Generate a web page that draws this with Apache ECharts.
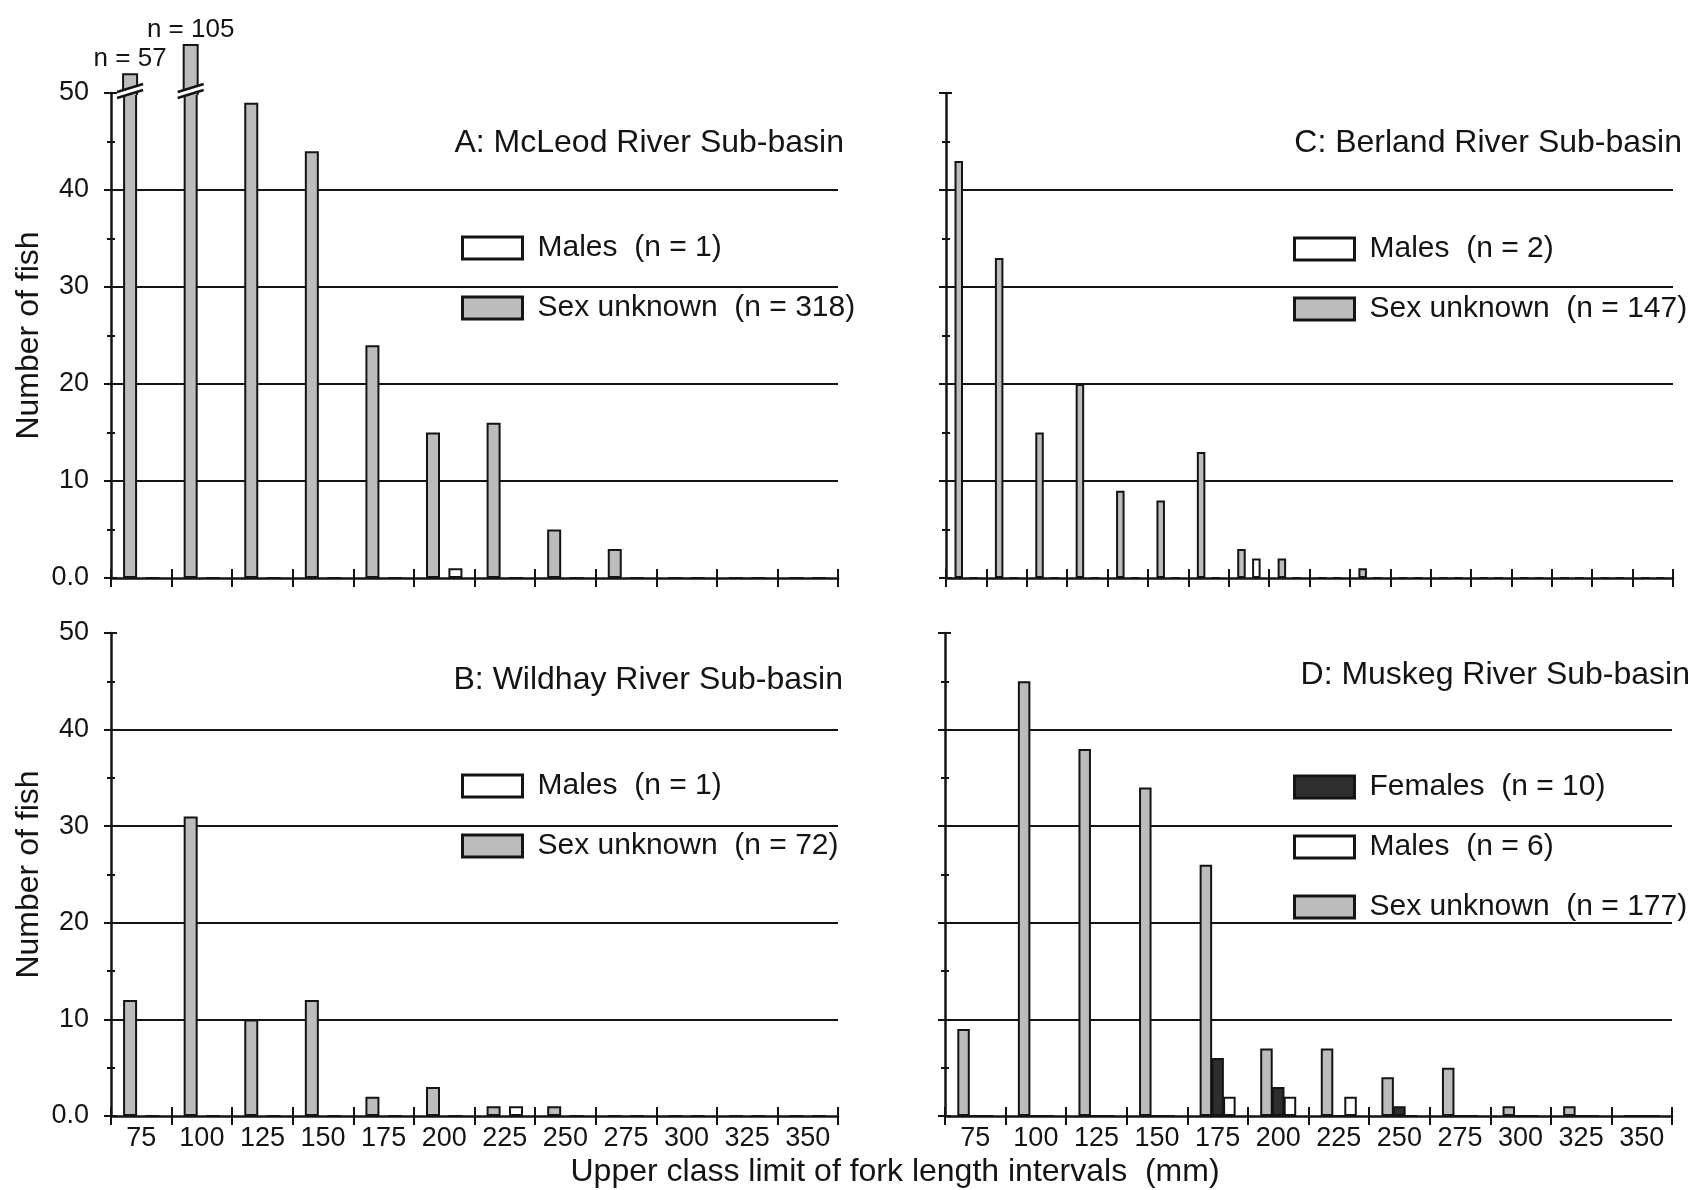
<!DOCTYPE html>
<html>
<head>
<meta charset="utf-8">
<script src="https://cdn.jsdelivr.net/npm/echarts@6/dist/echarts.min.js"></script>
<style>
  html, body { margin: 0; padding: 0; background: #fff; }
  #chart { width: 1694px; height: 1190px; }
</style>
</head>
<body>
<div id="chart"></div>
<script>
// Upper class limits of the fork-length intervals (mm)
const lengthClasses = ['75', '100', '125', '150', '175', '200', '225', '250', '275', '300', '325', '350'];
// The Berland River sample is tallied in 18 narrower classes (unlabelled)
const berlandClasses = ['1', '2', '3', '4', '5', '6', '7', '8', '9', '10', '11', '12', '13', '14', '15', '16', '17', '18'];
const yTickLabels = ['0.0', '10', '20', '30', '40', '50'];

// A: McLeod River Sub-basin
const mcleodUnknown = [57, 105, 49, 44, 24, 15, 16, 5, 3, 0, 0, 0];
const mcleodMales   = [0, 0, 0, 0, 0, 1, 0, 0, 0, 0, 0, 0];
// B: Wildhay River Sub-basin
const wildhayUnknown = [12, 31, 10, 12, 2, 3, 1, 1, 0, 0, 0, 0];
const wildhayMales   = [0, 0, 0, 0, 0, 0, 1, 0, 0, 0, 0, 0];
// C: Berland River Sub-basin
const berlandUnknown = [43, 33, 15, 20, 9, 8, 13, 3, 2, 0, 1, 0, 0, 0, 0, 0, 0, 0];
const berlandMales   = [0, 0, 0, 0, 0, 0, 0, 2, 0, 0, 0, 0, 0, 0, 0, 0, 0, 0];
// D: Muskeg River Sub-basin
const muskegUnknown = [9, 45, 38, 34, 26, 7, 7, 4, 5, 1, 1, 0];
const muskegFemales = [0, 0, 0, 0, 6, 3, 0, 1, 0, 0, 0, 0];
const muskegMales   = [0, 0, 0, 0, 2, 2, 2, 0, 0, 0, 0, 0];

const FONT = "'Liberation Sans', Arial, Helvetica, sans-serif";
const INK = '#141414';
const GRAY = '#bcbcbc';
const DARK = '#2e2e2e';
const WHITE = '#ffffff';

// Value axis is drawn up to 50; counts beyond it are shown past a scale break
const AXIS_TOP = 50;
const BREAK_GAP = 1.5;       // axis units skipped at the break
const ABOVE_SCALE = 1 / 16;  // compression applied to counts beyond the break
function brokenValue(v) {
  return v <= AXIS_TOP ? v : AXIS_TOP + BREAK_GAP + (v - AXIS_TOP) * ABOVE_SCALE;
}

const sum = arr => arr.reduce((a, b) => a + b, 0);
const maleName = arr => 'Males  (n = ' + sum(arr) + ')';
const femaleName = arr => 'Females  (n = ' + sum(arr) + ')';
const unknownName = arr => 'Sex unknown  (n = ' + sum(arr) + ')';

const grids = [
  { left: 111, top: 93, width: 727, height: 485 },   // A
  { left: 946, top: 93, width: 727, height: 485 },   // C
  { left: 111, top: 633, width: 727, height: 483 },  // B
  { left: 945, top: 633, width: 727, height: 483 }   // D
];

function xAxesFor(gridIndex, cats, showLabels) {
  const tickStyle = { color: INK, width: 2 };
  return [
    {
      type: 'category', gridIndex, data: cats, position: 'bottom', boundaryGap: true,
      axisLine: { show: true, onZero: false, lineStyle: { color: INK, width: 2.5 } },
      axisTick: { show: true, length: 9, interval: 0, lineStyle: tickStyle },
      axisLabel: { show: showLabels, interval: 0, margin: 9, fontSize: 27, color: INK, fontFamily: FONT },
      splitLine: { show: false }
    },
    {
      type: 'category', gridIndex, data: cats, position: 'bottom', boundaryGap: true,
      axisLine: { show: false },
      axisTick: { show: true, inside: true, length: 9, interval: 0, lineStyle: tickStyle },
      axisLabel: { show: false },
      splitLine: { show: false }
    }
  ];
}

function yAxesFor(gridIndex, showLabels) {
  const tickStyle = { color: INK, width: 2 };
  const clear = 'rgba(0,0,0,0)';
  return [
    {
      type: 'value', gridIndex, min: 0, max: AXIS_TOP, interval: 10, position: 'left',
      name: showLabels ? 'Number of fish' : '',
      nameLocation: 'middle', nameGap: 66,
      nameTextStyle: { fontSize: 32, color: INK, fontFamily: FONT },
      axisLine: { show: true, lineStyle: { color: INK, width: 2.5 } },
      axisTick: { show: true, length: 7, lineStyle: tickStyle },
      minorTick: { show: true, splitNumber: 2, length: 4, lineStyle: tickStyle },
      axisLabel: {
        show: showLabels, margin: 22, fontSize: 27, color: INK, fontFamily: FONT,
        formatter: (v, i) => yTickLabels[i]
      },
      splitLine: { show: true, lineStyle: { color: [clear, INK, INK, INK, INK, clear], width: 2 } }
    },
    {
      type: 'value', gridIndex, min: 0, max: AXIS_TOP, interval: 10, position: 'left',
      axisLine: { show: false },
      axisTick: { show: true, inside: true, length: 6, lineStyle: tickStyle },
      minorTick: { show: true, splitNumber: 2, length: 4, lineStyle: tickStyle },
      axisLabel: { show: false },
      splitLine: { show: false }
    }
  ];
}

function barSeries(name, data, gridIndex, fill, barWidth, barGap) {
  return {
    type: 'bar', name, data,
    xAxisIndex: gridIndex * 2, yAxisIndex: gridIndex * 2,
    barWidth, barGap,
    clip: true, silent: true, z: 3,
    itemStyle: { color: fill, borderColor: INK, borderWidth: 2 }
  };
}

// Part of a bar beyond the axis top, with the "//" break and its count
const A_BAR_W = 14, A_BAR_GAP = 0.6;
function overflowSeries(data, gridIndex, slotCount, slot, barWidth, gapFrac) {
  return {
    type: 'custom', silent: true, z: 6, clip: false,
    xAxisIndex: gridIndex * 2, yAxisIndex: gridIndex * 2,
    data: data.map((v, i) => [i, v]),
    renderItem(params, api) {
      const idx = api.value(0);
      const v = api.value(1);
      if (v <= AXIS_TOP) return null;
      const center = api.coord([idx, 0])[0];
      const total = slotCount * barWidth + (slotCount - 1) * gapFrac * barWidth;
      const left = center - total / 2 + slot * barWidth * (1 + gapFrac);
      const right = left + barWidth;
      const yAxisTop = api.coord([idx, AXIS_TOP])[1];
      const yTop = api.coord([idx, brokenValue(v)])[1];
      const yB = yAxisTop + 1;
      const ext = 6, rise = 4, band = 6;
      return {
        type: 'group',
        children: [
          { type: 'rect', shape: { x: left, y: yTop, width: barWidth, height: yAxisTop - yTop + 2 },
            style: { fill: GRAY } },
          { type: 'polyline', shape: { points: [[left, yAxisTop + 2], [left, yTop], [right, yTop], [right, yAxisTop + 2]] },
            style: { stroke: INK, lineWidth: 2, fill: null } },
          { type: 'polygon', shape: { points: [
              [left - ext, yB + rise], [right + ext, yB - rise],
              [right + ext, yB - rise - band], [left - ext, yB + rise - band]] },
            style: { fill: WHITE } },
          { type: 'line', shape: { x1: left - ext, y1: yB + rise, x2: right + ext, y2: yB - rise },
            style: { stroke: INK, lineWidth: 2.5 } },
          { type: 'line', shape: { x1: left - ext, y1: yB + rise - band, x2: right + ext, y2: yB - rise - band },
            style: { stroke: INK, lineWidth: 2.5 } },
          { type: 'text', style: {
              text: 'n = ' + v, x: (left + right) / 2, y: yTop - 2,
              align: 'center', verticalAlign: 'bottom',
              fontSize: 26, fontFamily: FONT, fill: INK } }
        ]
      };
    }
  };
}

function legendFor(left, top, names) {
  return {
    orient: 'vertical', left, top, padding: 0,
    itemWidth: 60, itemHeight: 22, itemGap: 30,
    icon: 'rect', selectedMode: false,
    itemStyle: { borderColor: INK, borderWidth: 3 },
    textStyle: { fontSize: 30, lineHeight: 30, color: INK, fontFamily: FONT, padding: [0, 0, 0, 10] },
    data: names
  };
}

const panelTitle = (text, right, top) => ({
  text, right, top, padding: 0,
  textStyle: { fontSize: 32, fontWeight: 'normal', color: INK, fontFamily: FONT }
});

const option = {
  animation: false,
  backgroundColor: '#fff',
  grid: grids,
  xAxis: [
    ...xAxesFor(0, lengthClasses, false),
    ...xAxesFor(1, berlandClasses, false),
    ...xAxesFor(2, lengthClasses, true),
    ...xAxesFor(3, lengthClasses, true)
  ],
  yAxis: [
    ...yAxesFor(0, true),
    ...yAxesFor(1, false),
    ...yAxesFor(2, true),
    ...yAxesFor(3, false)
  ],
  title: [
    panelTitle('A: McLeod River Sub-basin', 850, 127),
    panelTitle('C: Berland River Sub-basin', 12, 127),
    panelTitle('B: Wildhay River Sub-basin', 851, 664),
    panelTitle('D: Muskeg River Sub-basin', 4, 659),
    {
      text: 'Upper class limit of fork length intervals  (mm)',
      left: 895, top: 1156, textAlign: 'center', padding: 0,
      textStyle: { fontSize: 32, fontWeight: 'normal', color: INK, fontFamily: FONT }
    }
  ],
  legend: [
    legendFor(461, 233, [maleName(mcleodMales), unknownName(mcleodUnknown)]),
    legendFor(1293, 234, [maleName(berlandMales), unknownName(berlandUnknown)]),
    legendFor(461, 771, [maleName(wildhayMales), unknownName(wildhayUnknown)]),
    legendFor(1293, 772, [femaleName(muskegFemales), maleName(muskegMales), unknownName(muskegUnknown)])
  ],
  series: [
    // A
    barSeries(unknownName(mcleodUnknown), mcleodUnknown, 0, GRAY, A_BAR_W, '60%'),
    barSeries(maleName(mcleodMales), mcleodMales, 0, WHITE, A_BAR_W, '60%'),
    overflowSeries(mcleodUnknown, 0, 2, 0, A_BAR_W, A_BAR_GAP),
    // C
    barSeries(unknownName(berlandUnknown), berlandUnknown, 1, GRAY, 8.5, '75%'),
    barSeries(maleName(berlandMales), berlandMales, 1, WHITE, 8.5, '75%'),
    // B
    barSeries(unknownName(wildhayUnknown), wildhayUnknown, 2, GRAY, A_BAR_W, '60%'),
    barSeries(maleName(wildhayMales), wildhayMales, 2, WHITE, A_BAR_W, '60%'),
    // D
    barSeries(unknownName(muskegUnknown), muskegUnknown, 3, GRAY, 12.5, '-6%'),
    barSeries(femaleName(muskegFemales), muskegFemales, 3, DARK, 12.5, '-6%'),
    barSeries(maleName(muskegMales), muskegMales, 3, WHITE, 12.5, '-6%')
  ]
};

const chart = echarts.init(document.getElementById('chart'), null, { renderer: 'canvas' });
chart.setOption(option);
</script>
</body>
</html>
